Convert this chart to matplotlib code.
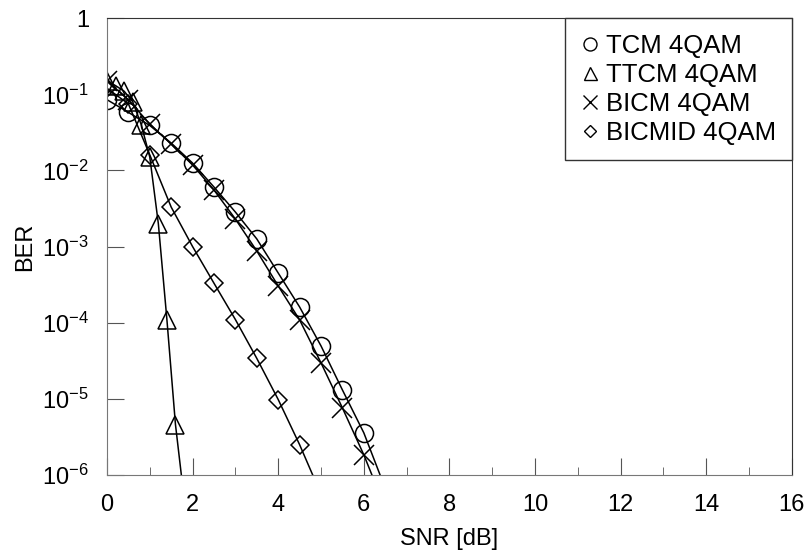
import math
import matplotlib
matplotlib.use("Agg")
import matplotlib.pyplot as plt
from matplotlib.lines import Line2D
from matplotlib.ticker import FixedLocator, FuncFormatter, MultipleLocator

plt.rcParams['font.family'] = ['Liberation Sans', 'DejaVu Sans']
plt.rcParams['mathtext.default'] = 'regular'

# BER curves (last point of each list is the line tail, no marker)
snr_tcm = [0.0, 0.5, 1.0, 1.5, 2.0, 2.5, 3.0, 3.5, 4.0, 4.5, 5.0, 5.5, 6.0, 6.5]
ber_tcm = [0.085, 0.058, 0.039, 0.0229, 0.0125, 6.05e-3, 2.84e-3, 1.26e-3,
           4.5e-4, 1.61e-4, 4.96e-5, 1.31e-5, 3.58e-6, 6.7e-7]

snr_ttcm = [0.0, 0.2, 0.4, 0.6, 0.8, 1.0, 1.2, 1.4, 1.6, 1.8]
ber_ttcm = [0.15, 0.13, 0.11, 0.08, 0.04, 0.015, 2.0e-3, 1.1e-4, 4.6e-6, 5e-7]

snr_bicm = [0.0, 0.5, 1.0, 1.5, 2.0, 2.5, 3.0, 3.5, 4.0, 4.5, 5.0, 5.5, 6.0, 6.5]
ber_bicm = [0.15, 0.085, 0.0406, 0.0222, 0.0118, 5.53e-3, 2.30e-3, 8.75e-4,
            3.04e-4, 1.09e-4, 2.97e-5, 7.6e-6, 1.84e-6, 3.7e-7]

snr_bicmid = [0.0, 0.5, 1.0, 1.5, 2.0, 2.5, 3.0, 3.5, 4.0, 4.5, 5.0]
ber_bicmid = [0.12, 0.075, 0.016, 3.3e-3, 1.0e-3, 3.3e-4, 1.1e-4, 3.4e-5,
              9.8e-6, 2.5e-6, 5.6e-7]

labels = ["TCM 4QAM", "TTCM 4QAM", "BICM 4QAM", "BICMID 4QAM"]
markers = ["o", "^", "x", "D"]
msizes = [13, 13, 14, 9]

fig = plt.figure(figsize=(8.08, 5.51), dpi=100)
ax = fig.add_axes([0.1324, 0.138, 0.8476, 0.829])

series = [(snr_tcm, ber_tcm), (snr_ttcm, ber_ttcm), (snr_bicm, ber_bicm), (snr_bicmid, ber_bicmid)]
for (x, y), m, ms in zip(series, markers, msizes):
    ax.plot(x, y, color="black", lw=1.1, marker=m, ms=ms, mfc="none", mec="black",
            mew=1.1, markevery=slice(0, len(x) - 1))

ax.set_yscale("log")
ax.set_xlim(0, 16)
ax.set_ylim(1e-6, 1)

ax.xaxis.set_major_locator(MultipleLocator(2))
ax.xaxis.set_minor_locator(MultipleLocator(1))
ax.yaxis.set_major_locator(FixedLocator([10.0 ** k for k in range(-6, 1)]))
ax.yaxis.set_minor_locator(FixedLocator([]))

def ylab(v, pos):
    k = int(round(math.log10(v)))
    return "1" if k == 0 else "$10^{%d}$" % k

ax.yaxis.set_major_formatter(FuncFormatter(ylab))
ax.tick_params(which="both", direction="in", top=False, right=False, labelsize=17, color="#555555")
ax.tick_params(axis="x", which="major", length=12, pad=14)
ax.tick_params(axis="x", which="minor", length=6)
ax.tick_params(axis="y", which="major", length=12, pad=13)

for s in ["left", "bottom"]:
    ax.spines[s].set_color("#777777")
for s in ["top", "right"]:
    ax.spines[s].set_color("#333333")

ax.set_xlabel("SNR [dB]", fontsize=17, labelpad=8)
ax.set_ylabel("BER", fontsize=17, labelpad=4)

handles = [Line2D([], [], ls="none", marker=m, ms=ms * 0.72, mfc="none", mec="black", mew=1.0)
           for m, ms in zip(markers, msizes)]
leg = ax.legend(handles, labels, loc="upper right", borderaxespad=0, fontsize=18.5,
                handlelength=0.7, handletextpad=0.3, labelspacing=0.2, borderpad=0.6,
                fancybox=False, framealpha=1)
leg.get_frame().set_edgecolor("#333333")
leg.get_frame().set_linewidth(1.0)

fig.savefig("out.png", dpi=100)
